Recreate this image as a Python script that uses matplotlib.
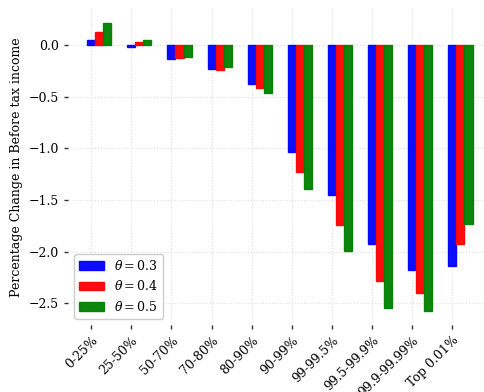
import numpy as np
import matplotlib
matplotlib.use("Agg")
import matplotlib.pyplot as plt

plt.rcParams['font.family'] = 'DejaVu Serif'
plt.rcParams['mathtext.fontset'] = 'dejavuserif'

# groups of income
groups = ['0-25%', '25-50%', '50-70%', '70-80%', '80-90%', '90-99%',
          '99-99.5%', '99.5-99.9%', '99.9-99.99%', 'Top 0.01%']

# percentage change for each theta
theta_03 = [0.048, -0.017, -0.133, -0.233, -0.378, -1.034, -1.453, -1.925, -2.18, -2.141]
theta_04 = [0.13, 0.025, -0.126, -0.242, -0.42, -1.23, -1.741, -2.29, -2.397, -1.925]
theta_05 = [0.21, 0.05, -0.113, -0.217, -0.462, -1.395, -1.993, -2.546, -2.572, -1.729]

series = [(theta_03, 'blue', r'$\theta = 0.3$'),
          (theta_04, 'red', r'$\theta = 0.4$'),
          (theta_05, 'green', r'$\theta = 0.5$')]

fig = plt.figure(figsize=(4.85, 3.92), dpi=100)
ax = fig.add_axes([0.140, 0.171, 0.874, 0.806])

x = np.arange(len(groups))
w = 0.2
for i, (vals, col, lab) in enumerate(series):
    ax.bar(x + i * w, vals, w, color=col, label=lab,
           edgecolor=col, linewidth=1.0, alpha=0.95)

ax.set_xticks(x)
ax.set_xticklabels(groups, rotation=45, ha='right', rotation_mode='anchor')
ax.set_ylabel('Percentage Change in Before tax income', fontsize=9)
ax.set_yticks([0.0, -0.5, -1.0, -1.5, -2.0, -2.5])

ax.grid(True, linestyle=':', color='#dddddd', linewidth=0.8)
ax.set_axisbelow(True)
for s in ax.spines.values():
    s.set_visible(False)
ax.tick_params(direction='out', length=3, width=1, color='#333333', labelsize=9)

ax.legend(loc='lower left', fontsize=9, framealpha=1, edgecolor='#cccccc')

fig.savefig('out.png', dpi=100)
